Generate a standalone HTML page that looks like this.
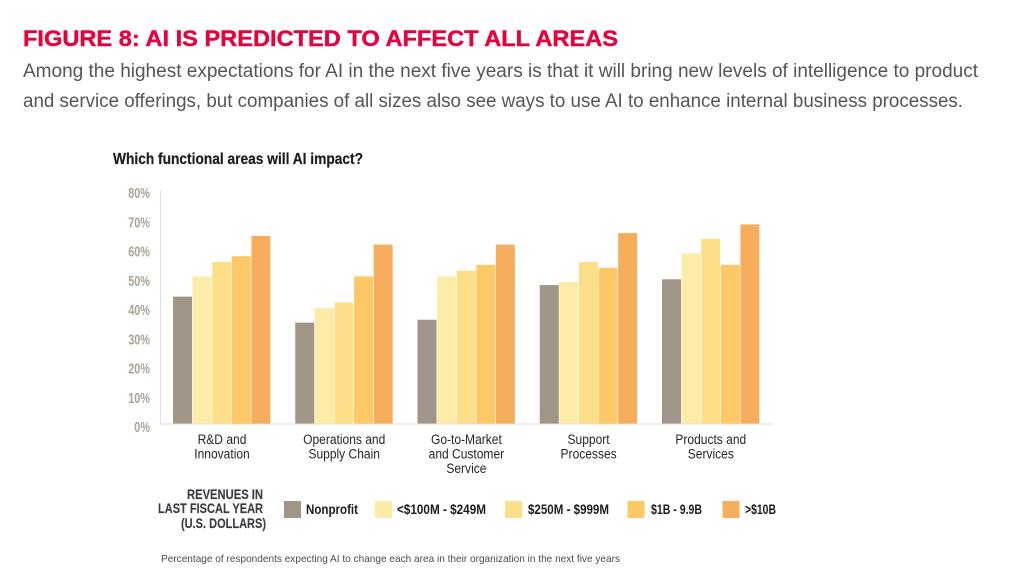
<!DOCTYPE html>
<html lang="en">
<head>
<meta charset="utf-8">
<title>Figure 8: AI is predicted to affect all areas</title>
<style>
html,body{margin:0;padding:0;background:#fff;width:1012px;height:584px;overflow:hidden}
svg{display:block;font-family:"Liberation Sans",sans-serif}
</style>
</head>
<body>
<svg id="chart" width="1012" height="584" viewBox="0 0 1012 584" xmlns="http://www.w3.org/2000/svg">
  <rect x="0" y="0" width="1012" height="584" fill="#ffffff"/>
  <text x="23" y="46" font-size="22" font-weight="700" fill="#e8003d" stroke="#e8003d" stroke-width="0.4" textLength="595" lengthAdjust="spacingAndGlyphs">FIGURE 8: AI IS PREDICTED TO AFFECT ALL AREAS</text>
  <text x="23" y="77" font-size="19" fill="#54545a" textLength="955" lengthAdjust="spacingAndGlyphs">Among the highest expectations for AI in the next five years is that it will bring new levels of intelligence to product</text>
  <text x="23" y="107" font-size="19" fill="#54545a" textLength="940" lengthAdjust="spacingAndGlyphs">and service offerings, but companies of all sizes also see ways to use AI to enhance internal business processes.</text>
  <text x="113" y="164" font-size="15.5" font-weight="700" fill="#1c1c20" stroke="#1c1c20" stroke-width="0.2" textLength="250" lengthAdjust="spacingAndGlyphs">Which functional areas will AI impact?</text>

  <g id="y-ticks"></g>
  <g id="bars"></g>
  <line x1="160.5" y1="190" x2="160.5" y2="424" stroke="#e2dfda" stroke-width="1"/>
  <line x1="160" y1="424" x2="772" y2="424" stroke="#dedbd6" stroke-width="1"/>
  <g id="x-labels"></g>

  <g>
    <g font-size="13.5" font-weight="700" fill="#3a3c44" stroke="#3a3c44" stroke-width="0.15">
      <text x="187" y="499" textLength="76" lengthAdjust="spacingAndGlyphs">REVENUES IN</text>
      <text x="158" y="513" textLength="105" lengthAdjust="spacingAndGlyphs">LAST FISCAL YEAR</text>
      <text x="181" y="528" textLength="85" lengthAdjust="spacingAndGlyphs">(U.S. DOLLARS)</text>
    </g>
    <g id="legend-items" font-size="13.5" font-weight="700" fill="#1c1c20"></g>
  </g>
  <text x="161" y="562" font-size="10.5" fill="#4b4b50" textLength="459" lengthAdjust="spacingAndGlyphs">Percentage of respondents expecting AI to change each area in their organization in the next five years</text>
</svg>
<script>
var categories = [
  ["R&D and", "Innovation"],
  ["Operations and", "Supply Chain"],
  ["Go-to-Market", "and Customer", "Service"],
  ["Support", "Processes"],
  ["Products and", "Services"]
];
var seriesNames = ["Nonprofit", "<$100M - $249M", "$250M - $999M", "$1B - 9.9B", ">$10B"];
var seriesColors = ["#a09586", "#fdeba8", "#fddf8a", "#fdc966", "#f6ae5c"];
var nonprofit = [44, 35, 36, 48, 50];
var rev100to249 = [51, 40, 51, 49, 59];
var rev250to999 = [56, 42, 53, 56, 64];
var rev1to9 = [58, 51, 55, 54, 55];
var rev10plus = [65, 62, 62, 66, 69];
var yTicks = [0, 10, 20, 30, 40, 50, 60, 70, 80];

var NS = "http://www.w3.org/2000/svg";
var allSeries = [nonprofit, rev100to249, rev250to999, rev1to9, rev10plus];

function yScale(v) { return 423.7 - v * 2.888; }
function groupX(i) { return 173 + i * 122.25; }
function barX(i, s) { return groupX(i) + s * 19.6; }
function labelX(i) { return 222 + i * 122.2; }
function tickY(v) { return 432 - v * 2.925; }

function svgEl(tag, attrs, parent) {
  var el = document.createElementNS(NS, tag);
  for (var k in attrs) { el.setAttribute(k, attrs[k]); }
  parent.appendChild(el);
  return el;
}
function squeeze(el, factor) {
  var len = el.getComputedTextLength();
  el.setAttribute("textLength", (len * factor).toFixed(1));
  el.setAttribute("lengthAdjust", "spacingAndGlyphs");
}

var tickGroup = document.getElementById("y-ticks");
yTicks.forEach(function (t) {
  var el = svgEl("text", {x: 150, y: tickY(t), "text-anchor": "end", "font-size": 14.5, "font-weight": 700, fill: "#aca397"}, tickGroup);
  el.textContent = t + "%";
  
  
  squeeze(el, 0.75);
});

var barGroup = document.getElementById("bars");
categories.forEach(function (cat, i) {
  allSeries.forEach(function (vals, s) {
    var top = yScale(vals[i]);
    var r = svgEl("rect", {x: barX(i, s), y: top, width: 19, height: yScale(0) - top, fill: seriesColors[s]}, barGroup);
    
    
  });
});

var labelGroup = document.getElementById("x-labels");
categories.forEach(function (lines, i) {
  lines.forEach(function (line, j) {
    var el = svgEl("text", {x: labelX(i), y: 444 + j * 14.6, "text-anchor": "middle", "font-size": 13.5, fill: "#26262a"}, labelGroup);
    el.textContent = line;
    
    
    squeeze(el, 0.89);
  });
});

var legendSwatchX = [284, 375, 505, 627.5, 722.5];
var legendTextX = [306, 397, 528, 651, 745];
var legendTextW = [52, 89, 81, 51, 31];
var legendGroup = document.getElementById("legend-items");
seriesNames.forEach(function (name, s) {
  var sw = svgEl("rect", {x: legendSwatchX[s], y: 501, width: 17, height: 17, fill: seriesColors[s]}, legendGroup);
  
  
  var tx = svgEl("text", {x: legendTextX[s], y: 514, textLength: legendTextW[s], lengthAdjust: "spacingAndGlyphs"}, legendGroup);
  tx.textContent = name;
  
  
});
</script>
</body>
</html>
